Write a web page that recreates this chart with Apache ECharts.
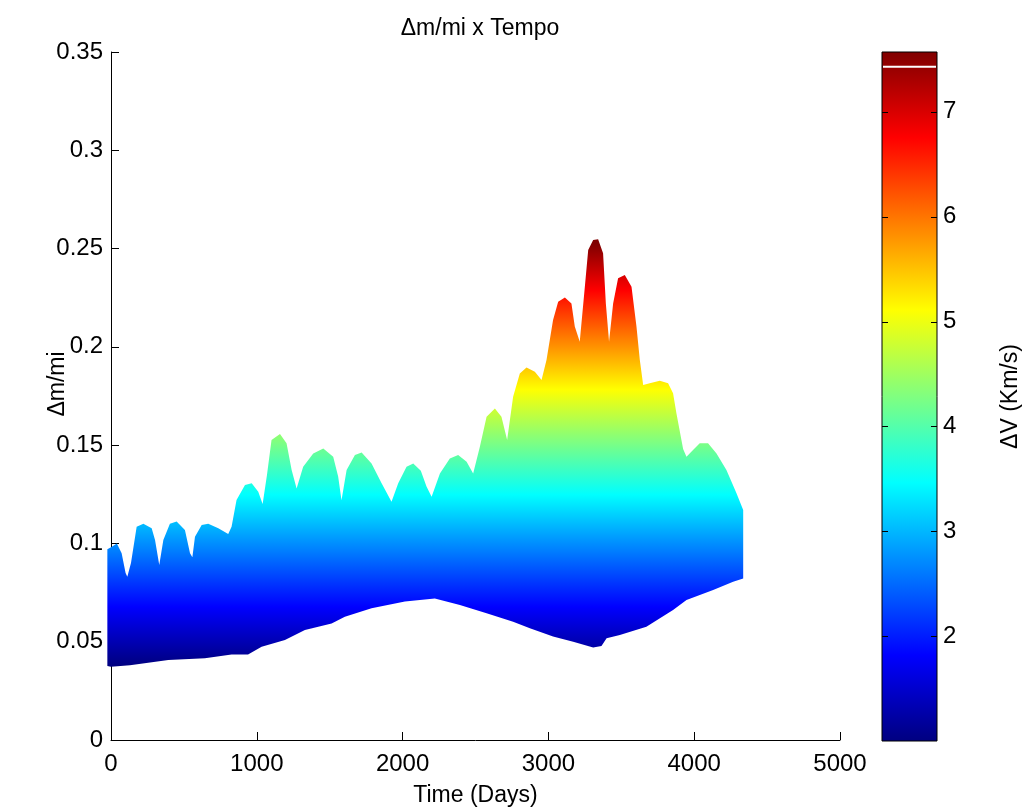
<!DOCTYPE html>
<html>
<head>
<meta charset="utf-8">
<script src="https://cdn.jsdelivr.net/npm/echarts@6/dist/echarts.min.js"></script>
<style>
  html, body { margin: 0; padding: 0; background: #fff; }
  #chart { width: 1032px; height: 809px; }
</style>
</head>
<body>
<div id="chart"></div>
<script>
// Upper edge of the Δm/mi band: mission time (days) and Δm/mi
const upperDays = [-25, 0, 40, 73, 100, 112, 137, 176, 222, 279, 302, 331, 359, 404, 450, 507, 542, 558,
  576, 622, 667, 736, 804, 827, 861, 919, 965, 1010, 1040, 1070, 1101, 1159, 1204, 1239, 1273,
  1318, 1387, 1456, 1524, 1558, 1581, 1616, 1673, 1719, 1787, 1856, 1924, 1970, 2027, 2073, 2125,
  2164, 2199, 2256, 2324, 2381, 2439, 2484, 2530, 2576, 2633, 2678, 2717, 2758, 2804, 2850, 2907,
  2953, 2987, 3032, 3067, 3113, 3158, 3181, 3215, 3250, 3273, 3307, 3341, 3375, 3394, 3416, 3444,
  3478, 3524, 3570, 3604, 3627, 3650, 3695, 3764, 3821, 3855, 3878, 3924, 3947, 3992, 4038, 4095,
  4153, 4221, 4290, 4336];
const upperVals = [0.097, 0.098, 0.100, 0.095, 0.085, 0.083, 0.090, 0.1085, 0.110, 0.1077, 0.1017, 0.089,
  0.1017, 0.110, 0.1112, 0.1068, 0.095, 0.093, 0.1034, 0.1094, 0.110, 0.1077, 0.1048, 0.1085, 0.1221,
  0.1297, 0.1306, 0.1263, 0.120, 0.135, 0.1526, 0.1557, 0.151, 0.1374, 0.128, 0.139, 0.1458, 0.1483,
  0.1441, 0.134, 0.122, 0.1374, 0.145, 0.1462, 0.1407, 0.1306, 0.1212, 0.1306, 0.139, 0.1407, 0.137,
  0.1289, 0.1238, 0.1356, 0.1432, 0.145, 0.1416, 0.1356, 0.1492, 0.1645, 0.1687, 0.1645, 0.1526,
  0.1746, 0.1865, 0.1895, 0.1874, 0.1831, 0.1933, 0.2137, 0.223, 0.2251, 0.222, 0.2103, 0.2026,
  0.2306, 0.2493, 0.2544, 0.2547, 0.2476, 0.222, 0.2026, 0.222, 0.2349, 0.2366, 0.2306, 0.2103,
  0.1933, 0.1806, 0.1815, 0.1828, 0.1815, 0.1764, 0.1662, 0.148, 0.1441, 0.1475, 0.151, 0.151,
  0.1458, 0.1374, 0.1255, 0.117];

// Lower edge of the Δm/mi band
const lowerDays = [-25, 0, 130, 393, 644, 827, 940, 1033, 1193, 1330, 1513, 1604, 1787, 2016, 2221,
  2393, 2576, 2758, 2873, 3032, 3170, 3307, 3364, 3399, 3490, 3672, 3855, 3947, 4130, 4267, 4336];
const lowerVals = [0.0376, 0.0373, 0.038, 0.0407, 0.0416, 0.0435, 0.0435, 0.0475, 0.0509, 0.056,
  0.0593, 0.0627, 0.067, 0.0704, 0.072, 0.0687, 0.0645, 0.0602, 0.0568, 0.0526, 0.050, 0.0471,
  0.0478, 0.0517, 0.0534, 0.0576, 0.0661, 0.0712, 0.0763, 0.0805, 0.0822];

// ΔV colour scale (km/s), its tick marks and the colourbar cap line
const dvRange = [1.0, 7.57];
const dvTicks = [2, 3, 4, 5, 6, 7];
const dvCapLine = 7.43;
// Effective exhaust speed (km/s): Δm/mi = 1 - exp(-ΔV / ve)
const ve = 26;

const FONT = 'Liberation Sans';

function massRatio(dv) { return 1 - Math.exp(-dv / ve); }

function jet(t) {
  const c = v => Math.round(255 * Math.max(0, Math.min(1, v)));
  const r = c(1.5 - Math.abs(4 * t - 3));
  const g = c(1.5 - Math.abs(4 * t - 2));
  const b = c(1.5 - Math.abs(4 * t - 1));
  return 'rgb(' + r + ',' + g + ',' + b + ')';
}

const N_STOPS = 64;

// Band polygon, coloured by the ΔV that each Δm/mi level corresponds to
function renderBand(params, api) {
  const pts = [];
  for (let i = 0; i < upperDays.length; i++) pts.push(api.coord([upperDays[i], upperVals[i]]));
  for (let i = lowerDays.length - 1; i >= 0; i--) pts.push(api.coord([lowerDays[i], lowerVals[i]]));
  const yTop = api.coord([0, massRatio(dvRange[1])])[1];
  const yBot = api.coord([0, massRatio(dvRange[0])])[1];
  const stops = [];
  for (let k = N_STOPS; k >= 0; k--) {
    const t = k / N_STOPS;
    const dv = dvRange[0] + t * (dvRange[1] - dvRange[0]);
    const py = api.coord([0, massRatio(dv)])[1];
    stops.push({ offset: Math.max(0, Math.min(1, (py - yTop) / (yBot - yTop))), color: jet(t) });
  }
  return {
    type: 'polygon',
    shape: { points: pts },
    style: {
      fill: { type: 'linear', x: 0, y: yTop, x2: 0, y2: yBot, global: true, colorStops: stops },
      stroke: null
    }
  };
}

// Colourbar rectangle with the jet ramp, inner tick marks on both sides
function renderBar(params, api) {
  const p0 = api.coord([0, dvRange[1]]);
  const p1 = api.coord([1, dvRange[0]]);
  const stops = [];
  for (let k = N_STOPS; k >= 0; k--) {
    const t = k / N_STOPS;
    stops.push({ offset: 1 - t, color: jet(t) });
  }
  const yc = api.coord([0, dvCapLine])[1];
  const children = [
    {
      type: 'rect',
      shape: { x: p0[0], y: p0[1], width: p1[0] - p0[0], height: p1[1] - p0[1] },
      style: {
        fill: { type: 'linear', x: 0, y: 0, x2: 0, y2: 1, colorStops: stops },
        stroke: '#000', lineWidth: 1
      }
    },
    {
      type: 'line',
      shape: { x1: p0[0] + 1, y1: yc, x2: p1[0] - 1, y2: yc },
      style: { stroke: '#fff', lineWidth: 2 }
    }
  ];
  dvTicks.forEach(function (v) {
    const y = Math.round(api.coord([0, v])[1]) + 0.5;
    children.push({ type: 'line', shape: { x1: p0[0], y1: y, x2: p0[0] + 6, y2: y },
      style: { stroke: '#000', lineWidth: 1 } });
    children.push({ type: 'line', shape: { x1: p1[0] - 6, y1: y, x2: p1[0], y2: y },
      style: { stroke: '#000', lineWidth: 1 } });
  });
  return { type: 'group', children: children };
}

const axisText = { color: '#000', fontFamily: FONT, fontSize: 24 };
const nameText = { color: '#000', fontFamily: FONT, fontSize: 23 };
const blackLine = { lineStyle: { color: '#000', width: 1 } };

const chart = echarts.init(document.getElementById('chart'), null, { renderer: 'canvas' });
chart.setOption({
  animation: false,
  backgroundColor: '#fff',
  textStyle: { fontFamily: FONT },
  title: {
    text: 'Δm/mi x Tempo',
    left: 475,
    top: 12,
    textAlign: 'center',
    textStyle: { color: '#000', fontFamily: FONT, fontSize: 23, fontWeight: 'normal' }
  },
  grid: [
    { left: 111, top: 52, width: 729, height: 688, outerBoundsMode: 'none', containLabel: false },
    { left: 882, top: 52, width: 55, height: 689, outerBoundsMode: 'none', containLabel: false }
  ],
  xAxis: [
    {
      gridIndex: 0, type: 'value', min: 0, max: 5000, interval: 1000,
      name: 'Time (Days)', nameLocation: 'middle', nameGap: 44, nameMoveOverlap: false,
      nameTextStyle: nameText,
      axisLine: { show: true, onZero: false, ...blackLine },
      axisTick: { show: true, inside: true, length: 8, ...blackLine },
      axisLabel: { ...axisText, margin: 12, formatter: v => String(v) },
      splitLine: { show: false }
    },
    { gridIndex: 1, type: 'value', min: 0, max: 1, show: false }
  ],
  yAxis: [
    {
      gridIndex: 0, type: 'value', min: 0, max: 0.35, interval: 0.05,
      name: 'Δm/mi', nameLocation: 'middle', nameGap: 42, nameRotate: 90, nameMoveOverlap: false,
      nameTextStyle: { ...nameText, padding: [0, 0, 0, 24] },
      axisLine: { show: true, onZero: false, ...blackLine },
      axisTick: { show: true, inside: true, length: 8, ...blackLine },
      axisLabel: { ...axisText, margin: 8 },
      splitLine: { show: false }
    },
    {
      gridIndex: 1, type: 'value', position: 'right', min: 1, max: 7.57, interval: 1,
      name: 'ΔV (Km/s)', nameLocation: 'middle', nameGap: 62, nameRotate: 90, nameMoveOverlap: false,
      nameTextStyle: nameText,
      axisLine: { show: false },
      axisTick: { show: false },
      axisLabel: { ...axisText, margin: 6, showMinLabel: false, showMaxLabel: false },
      splitLine: { show: false }
    }
  ],
  series: [
    {
      type: 'custom', name: 'Δm/mi', xAxisIndex: 0, yAxisIndex: 0, z: 2,
      renderItem: renderBand, data: [[0, 0]], silent: true
    },
    {
      type: 'custom', name: 'ΔV', xAxisIndex: 1, yAxisIndex: 1, z: 2,
      renderItem: renderBar, data: [[0, dvRange[0]]], silent: true
    }
  ]
});
</script>
</body>
</html>
